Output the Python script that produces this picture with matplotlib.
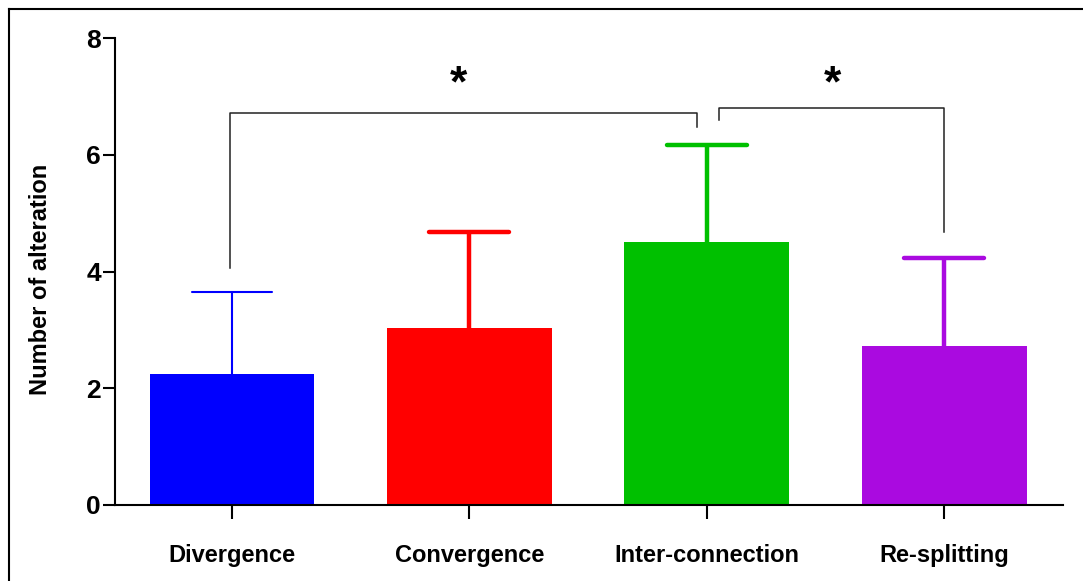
import matplotlib
matplotlib.use("Agg")
import matplotlib.pyplot as plt
from matplotlib.lines import Line2D

categories = ["Divergence", "Convergence", "Inter-connection", "Re-splitting"]
means = [2.25, 3.03, 4.50, 2.72]
upper = [3.65, 4.67, 6.16, 4.23]
colors = ["#0000FF", "#FF0000", "#00C000", "#AA0AE0"]
err_lw = [1.5, 3.2, 3.2, 3.2]
yticks = [0, 2, 4, 6, 8]

plt.rcParams['font.family'] = ['Liberation Sans', 'DejaVu Sans']

fig = plt.figure(figsize=(10.83, 5.81), dpi=100)
ax = fig.add_axes([115/1083, 76/581, 948/1083, 467/581])

x = list(range(len(categories)))
capw = 0.169
for i in x:
    ax.bar(i, means[i], width=0.695, color=colors[i], edgecolor='none', zorder=2)
    ax.vlines(i, means[i], upper[i], color=colors[i], lw=err_lw[i], zorder=3)
    ax.hlines(upper[i], i - capw, i + capw, color=colors[i], lw=err_lw[i], zorder=3,
              capstyle='round')

ax.set_xlim(-0.493, 3.501)
ax.set_ylim(0, 8)
ax.set_yticks(yticks)
ax.set_yticklabels([str(t) for t in yticks], fontsize=19, fontweight='bold')
ax.set_xticks(x)
ax.set_xticklabels(categories, fontsize=17, fontweight='bold')
ax.tick_params(axis='y', length=9, width=1.5, pad=1)
ax.tick_params(axis='x', length=10, width=1.5, pad=18)
ax.set_ylabel("Number of alteration", fontsize=17, fontweight='bold')
ax.yaxis.set_label_coords(-0.066, 0.483)
for s in ['top', 'right']:
    ax.spines[s].set_visible(False)
for s in ['left', 'bottom']:
    ax.spines[s].set_linewidth(1.5)

# significance brackets
bc = '#222222'
ax.plot([-0.01, -0.01, 1.96, 1.96], [4.06, 6.715, 6.715, 6.475], color=bc, lw=1.1, clip_on=False)
ax.plot([2.052, 2.052, 3.0, 3.0], [6.595, 6.80, 6.80, 4.68], color=bc, lw=1.1, clip_on=False)
ax.text(0.952, 7.2, "*", ha='center', va='center', fontsize=32, fontweight='bold')
ax.text(2.53, 7.2, "*", ha='center', va='center', fontsize=32, fontweight='bold')

# figure frame (left and top)
fig.add_artist(Line2D([9/1083, 9/1083], [0, 1 - 9/581], transform=fig.transFigure, color='black', lw=1.5))
fig.add_artist(Line2D([9/1083, 1], [1 - 9/581, 1 - 9/581], transform=fig.transFigure, color='black', lw=1.5))

fig.savefig("out.png", dpi=100)
